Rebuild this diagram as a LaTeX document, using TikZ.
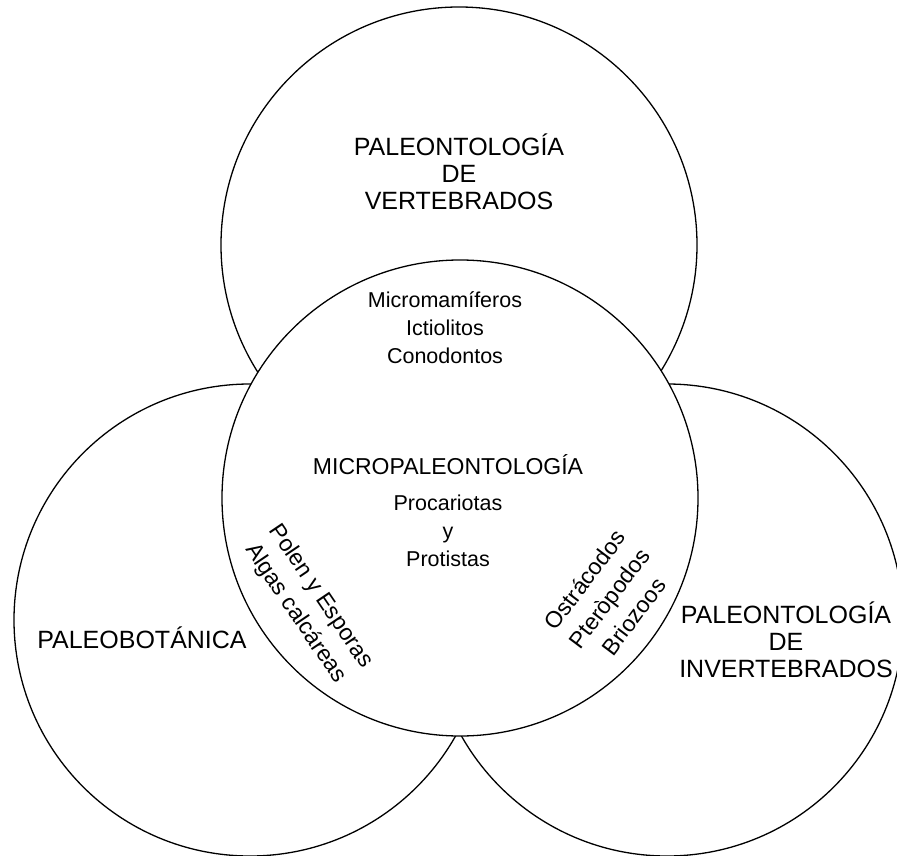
\documentclass[tikz,border=0pt]{standalone}
\usepackage{fontspec}
\setmainfont{Liberation Sans}
\begin{document}
\begin{tikzpicture}[x=1pt,y=-1pt,
  circ/.style={draw, circle, line width=1.3pt, inner sep=0pt, minimum size=#1},
  lbl/.style={align=center, inner sep=0pt, font=\fontsize{21.5}{28}\selectfont},
  big/.style={align=center, inner sep=0pt, font=\fontsize{25}{27}\selectfont},
  rot/.style={align=center, inner sep=0pt, font=\fontsize{23}{30.5}\selectfont}]
\useasboundingbox (0,0) rectangle (897,856);
\node[circ=476pt] (vert) at (459,245) {};
\node[circ=472pt] (bot) at (250,620) {};
\node[circ=472pt] (inv) at (667,620) {};
\node[circ=476pt, fill=white] (micro) at (460,498) {};
\node[big] (tvert) at (459,172) {PALEONTOLOGÍA\\DE\\VERTEBRADOS};
\node[lbl] (tmam) at (445,328) {Micromamíferos\\Ictiolitos\\Conodontos};
\node[lbl, font=\fontsize{23}{28}\selectfont] (tmicro) at (448,465) {MICROPALEONTOLOGÍA};
\node[lbl] (tproc) at (448,531) {Procariotas\\y\\Protistas};
\node[big] (tbot) at (142,638) {PALEOBOTÁNICA};
\node[big] (tinv) at (786,640) {PALEONTOLOGÍA\\DE\\INVERTEBRADOS};
\node[rot, rotate=-56] (tpolen) at (308,605) {Polen y Esporas\\Algas calcáreas};
\node[rot, rotate=53] (tostr) at (609,598) {Ostrácodos\\Pteròpodos\\Briozoos};
\end{tikzpicture}
\end{document}
